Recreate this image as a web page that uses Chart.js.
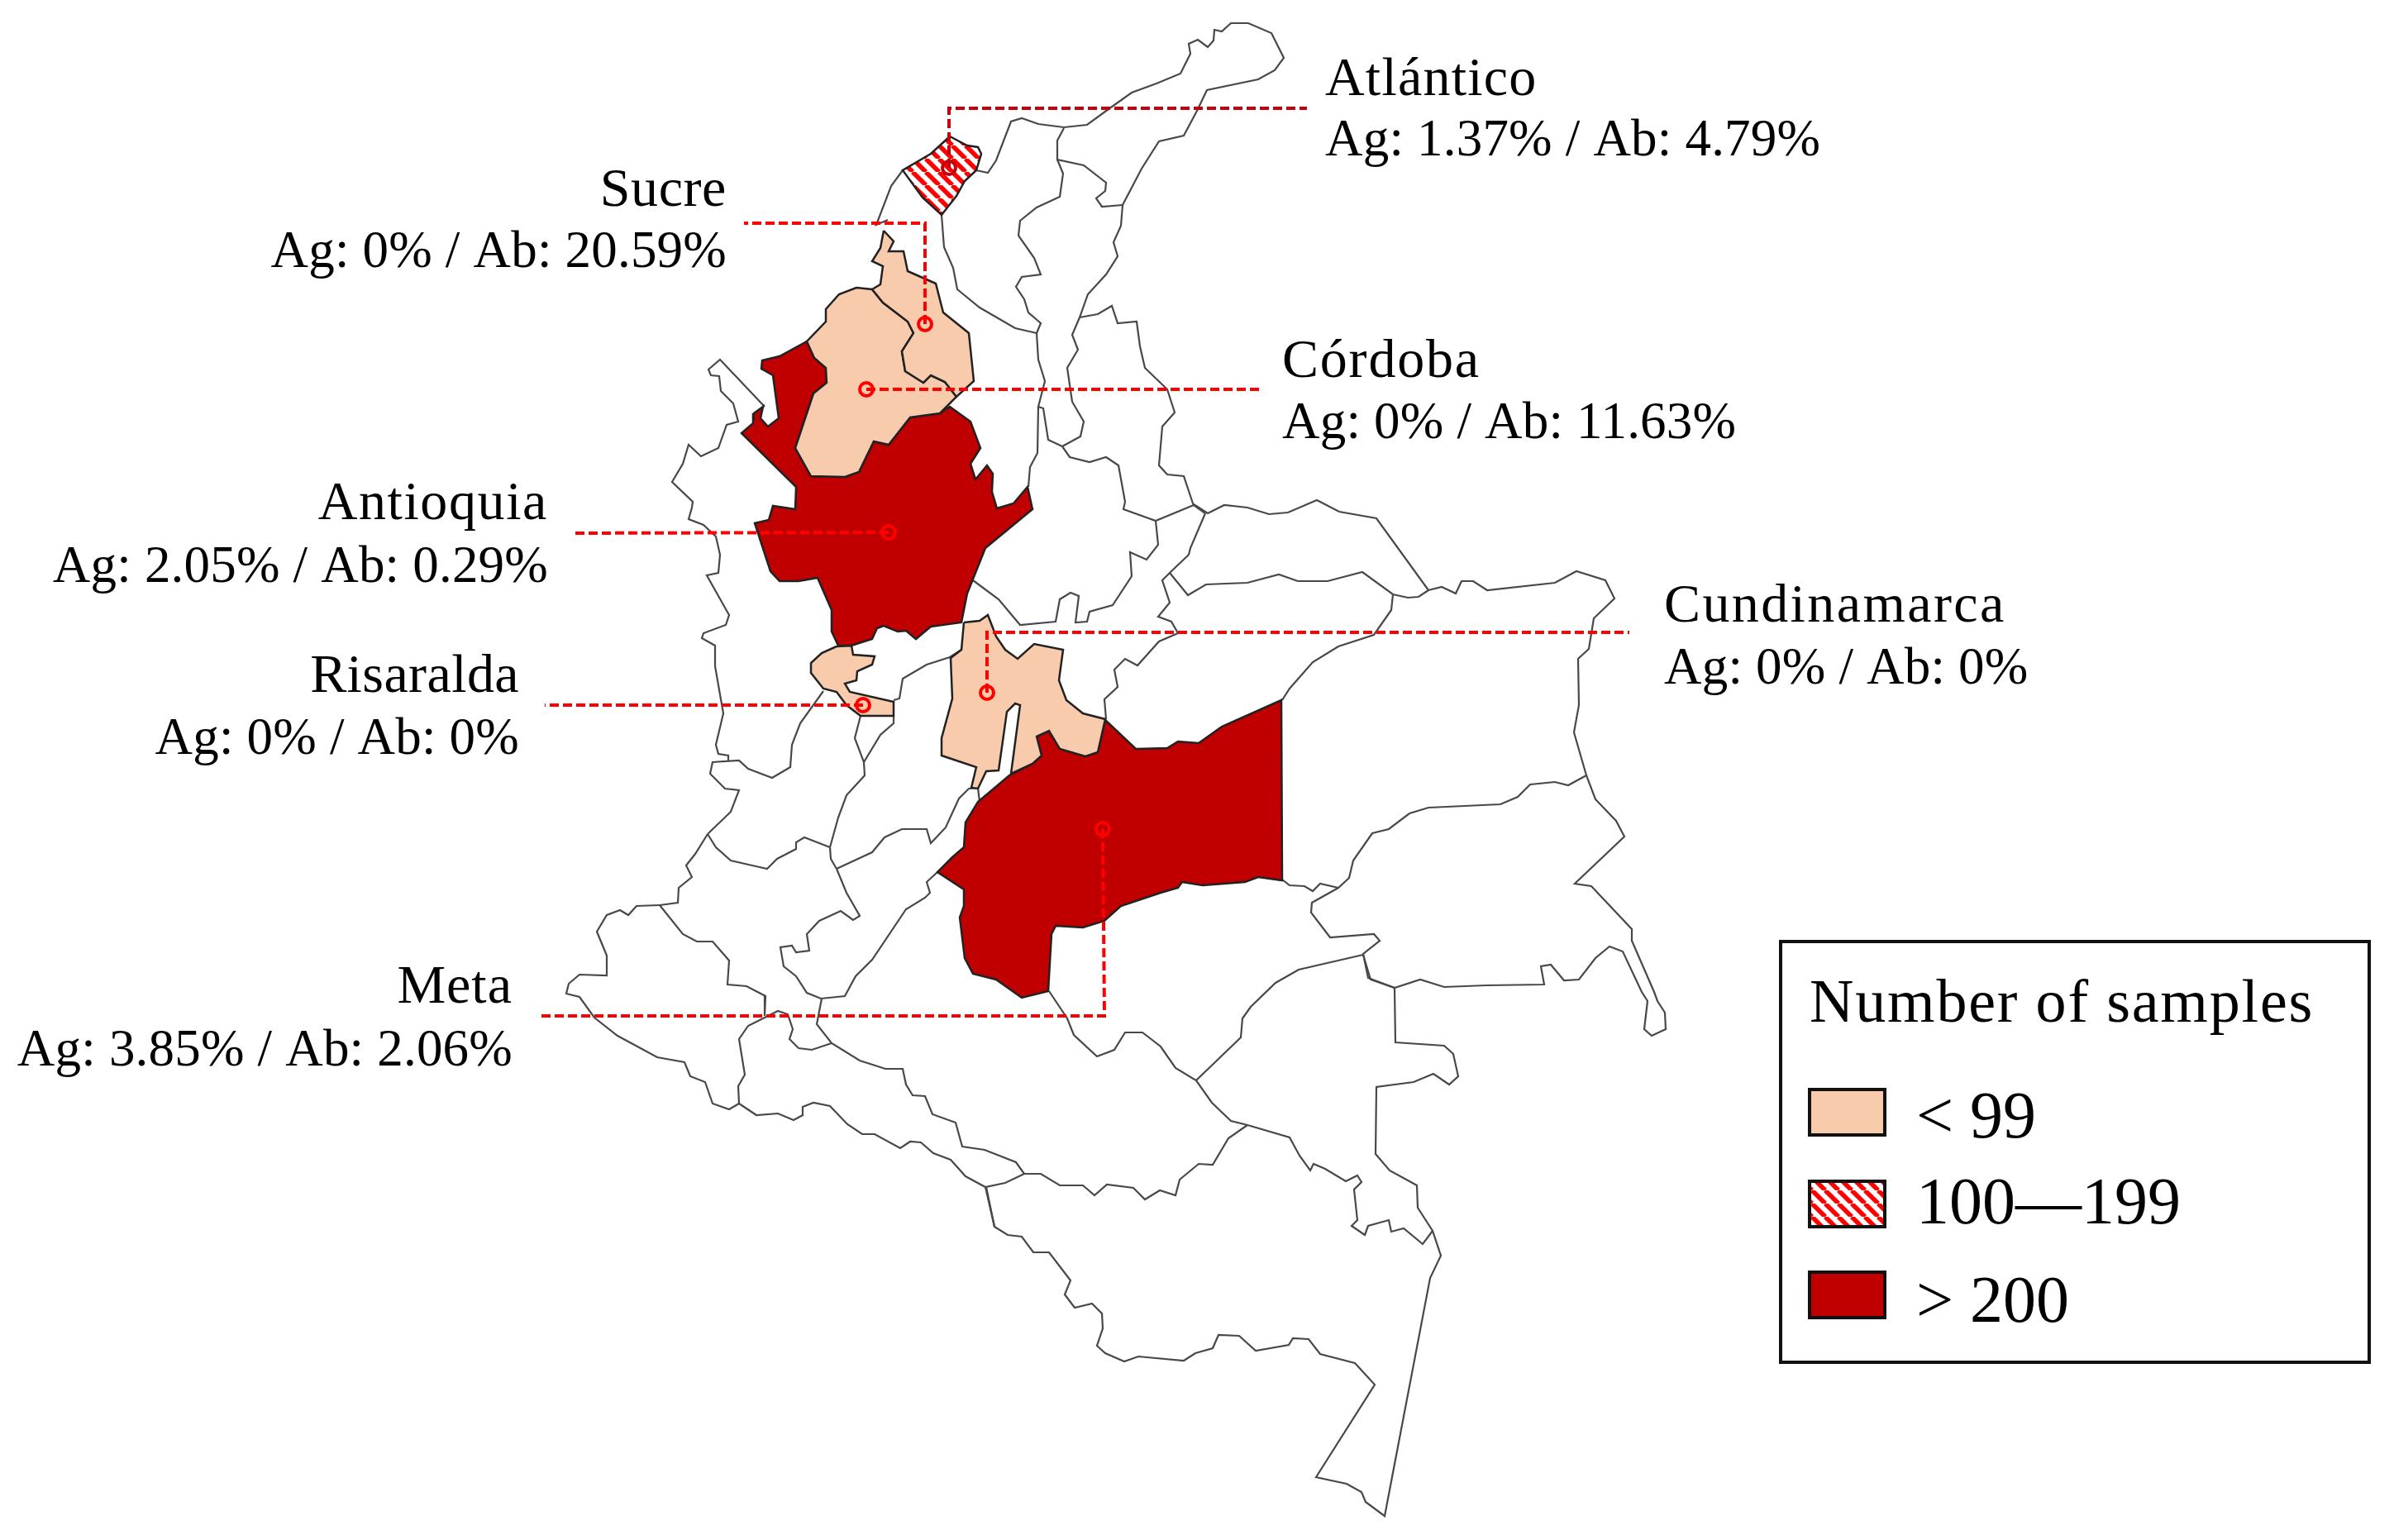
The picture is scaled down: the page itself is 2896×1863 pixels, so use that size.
<!DOCTYPE html>
<html>
<head>
<meta charset="utf-8">
<title>Samples by department</title>
<script src="https://cdn.jsdelivr.net/npm/chart.js@4/dist/chart.umd.min.js"></script>
<style>
html, body { margin: 0; padding: 0; background: #fff; }
canvas { display: block; filter: blur(0.7px); }
</style>
</head>
<body>
<canvas id="map" width="2896" height="1863"></canvas>
<script>
// departments that have samples
const atlantico = [[1149,165],[1170,176],[1183,178],[1187,186],[1181,206],[1167,219],[1157,237],[1139,260],[1116,239],[1092,206],[1126,186],[1149,165]];
const sucre = [[1069,279],[1081,292],[1075,304],[1093,304],[1098,328],[1132,343],[1141,378],[1172,403],[1178,461],[1157,480],[1143,462],[1126,454],[1117,463],[1095,449],[1091,425],[1105,403],[1098,389],[1068,366],[1055,350],[1065,344],[1068,322],[1055,316],[1065,300],[1069,279]];
const cordoba = [[1055,350],[1036,348],[1015,356],[999,374],[999,389],[976,413],[985,433],[999,445],[1000,463],[984,476],[962,542],[981,576],[1022,577],[1039,571],[1057,534],[1075,538],[1101,505],[1137,500],[1157,480],[1143,462],[1126,454],[1117,463],[1095,449],[1091,425],[1105,403],[1098,389],[1068,366],[1055,350]];
const antioquia = [[976,413],[943,431],[922,436],[921,446],[935,454],[942,506],[929,516],[920,506],[923,492],[912,500],[911,512],[897,524],[963,589],[962,616],[935,612],[930,629],[913,633],[932,691],[943,703],[966,703],[989,699],[1006,738],[1006,764],[1014,781],[1030,781],[1055,773],[1061,760],[1069,757],[1086,764],[1096,763],[1108,773],[1126,758],[1163,753],[1170,718],[1192,663],[1249,616],[1243,589],[1226,609],[1206,615],[1200,595],[1201,573],[1194,563],[1180,580],[1174,561],[1186,542],[1174,510],[1149,492],[1137,500],[1101,505],[1075,538],[1057,534],[1039,571],[1022,577],[981,576],[962,542],[984,476],[1000,463],[999,445],[985,433],[976,413]];
const risaralda = [[1012,782],[1030,781],[1032,792],[1058,794],[1055,804],[1037,812],[1036,823],[1022,827],[1028,837],[1081,849],[1081,866],[1041,866],[1024,853],[1012,837],[996,833],[981,814],[981,802],[994,790],[1012,782]];
const cundinamarca = [[1166,753],[1185,751],[1195,744],[1205,770],[1216,786],[1231,797],[1251,779],[1286,786],[1281,823],[1290,847],[1310,863],[1337,870],[1328,910],[1313,915],[1282,906],[1269,884],[1254,891],[1260,914],[1249,924],[1223,936],[1234,853],[1228,851],[1218,861],[1208,932],[1193,933],[1183,954],[1175,953],[1181,928],[1139,914],[1139,893],[1152,845],[1150,796],[1163,786],[1166,753]];
const meta = [[1337,871],[1374,906],[1412,905],[1425,897],[1450,899],[1478,879],[1550,847],[1551,1065],[1522,1061],[1506,1067],[1455,1071],[1430,1067],[1425,1074],[1404,1080],[1356,1096],[1336,1114],[1310,1122],[1277,1120],[1272,1130],[1268,1199],[1236,1207],[1205,1185],[1177,1178],[1167,1159],[1161,1110],[1166,1096],[1166,1076],[1134,1055],[1152,1037],[1166,1025],[1168,995],[1183,970],[1221,938],[1249,924],[1260,914],[1254,891],[1269,884],[1282,906],[1313,915],[1328,910],[1337,871]];

// the remaining borders, all unfilled
const borderLines = [
  [[1092,206],[1078,225],[1060,272],[1074,266]],
  [[1181,206],[1195,209],[1205,194],[1223,147],[1236,143],[1256,150],[1287,154],[1315,151],[1341,132],[1369,112],[1399,101],[1428,89],[1440,65],[1438,53],[1449,48],[1461,57],[1468,49],[1469,36],[1478,38],[1489,28],[1510,28],[1538,40],[1553,70],[1542,85],[1522,96],[1460,109],[1448,134],[1432,164],[1402,171],[1381,204],[1358,248]],
  [[1287,155],[1279,170],[1279,193],[1311,200],[1338,221],[1337,231],[1326,240],[1333,250],[1358,248]],
  [[1279,193],[1286,210],[1282,238],[1254,251],[1234,267],[1232,285],[1251,312],[1259,332],[1236,335],[1229,347],[1239,362],[1244,378],[1259,391],[1254,403]],
  [[1139,260],[1142,299],[1153,324],[1158,350],[1185,372],[1228,397],[1254,403]],
  [[1358,248],[1356,273],[1347,293],[1352,310],[1338,332],[1316,356],[1306,384],[1297,405],[1304,423],[1291,445],[1297,486],[1311,510],[1307,528],[1285,540]],
  [[1306,384],[1328,380],[1345,370],[1352,391],[1375,389],[1379,419],[1385,445],[1412,471],[1421,499],[1406,516],[1402,563],[1412,574],[1432,576],[1444,612]],
  [[1285,540],[1294,553],[1318,559],[1338,553],[1353,563],[1361,607],[1359,616],[1398,630],[1444,611],[1458,621]],
  [[1254,403],[1256,435],[1264,461],[1256,492],[1262,494],[1268,532],[1285,540]],
  [[1256,492],[1255,548],[1246,565],[1244,589]],
  // pacific coast and the west
  [[925,492],[871,435],[857,447],[860,454],[870,455],[872,473],[887,488],[893,510],[879,514],[869,542],[848,552],[833,538],[826,561],[813,583],[838,607],[837,614],[833,628],[851,635],[866,649],[871,671],[869,693],[855,696],[882,744],[878,756],[851,766],[849,772],[865,781],[865,806],[875,863],[866,901],[869,912],[881,914],[881,920]],
  [[996,836],[968,875],[958,901],[956,928],[934,941],[905,930],[894,920],[862,922],[859,936],[877,954],[894,956],[884,982],[856,1009]],
  [[1081,847],[1088,845],[1092,821],[1121,804],[1149,795],[1163,786]],
  // centre
  [[1177,702],[1208,725],[1234,756],[1277,752],[1282,725],[1295,717],[1305,721],[1301,753],[1315,752],[1318,740],[1346,732],[1369,697],[1367,668],[1387,677],[1401,659],[1398,630]],
  [[1458,621],[1440,663],[1438,671],[1415,693],[1406,702],[1415,729],[1401,746],[1417,752],[1425,766],[1402,776],[1376,805],[1361,797],[1348,810],[1352,831],[1336,846],[1338,870]],
  // arauca, casanare, vichada
  [[1444,610],[1461,621],[1481,611],[1509,614],[1535,622],[1558,620],[1593,605],[1620,619],[1665,627],[1728,714]],
  [[1415,693],[1437,720],[1459,707],[1509,705],[1547,695],[1570,703],[1606,703],[1648,692],[1685,719],[1703,723],[1716,722],[1728,714]],
  [[1728,714],[1744,710],[1761,718],[1768,703],[1782,703],[1799,714],[1881,705],[1907,691],[1942,702],[1953,724],[1928,748],[1922,785],[1909,797],[1910,853],[1904,886],[1919,938],[1930,967],[1955,993],[1965,1012],[1905,1069],[1925,1072],[1974,1124],[1974,1138],[2001,1200],[2005,1211],[2014,1225],[2015,1245],[1998,1253],[1989,1245],[1993,1211],[1986,1200],[1963,1151],[1947,1145],[1930,1159],[1910,1185],[1892,1186],[1876,1167],[1864,1169],[1868,1191],[1799,1192],[1747,1194],[1718,1185],[1687,1195],[1658,1185],[1649,1155]],
  [[1687,1195],[1688,1261],[1747,1265],[1758,1275],[1764,1302],[1753,1312],[1734,1299],[1710,1309],[1665,1315],[1664,1396],[1681,1416],[1714,1434],[1715,1461],[1733,1489],[1743,1519],[1730,1546],[1675,1834],[1652,1817],[1647,1805],[1629,1795],[1592,1787],[1663,1675],[1639,1649],[1597,1638],[1583,1620],[1564,1619],[1559,1627],[1519,1634],[1499,1616],[1474,1615],[1467,1631],[1446,1637],[1432,1646],[1377,1641],[1360,1647],[1337,1637],[1327,1628],[1334,1607],[1333,1589],[1321,1577],[1300,1582],[1288,1566],[1295,1549],[1282,1532],[1269,1515],[1250,1515],[1236,1496],[1219,1494],[1203,1484],[1193,1436]],
  [[1239,1420],[1259,1420],[1282,1434],[1310,1434],[1324,1446],[1339,1433],[1371,1437],[1385,1451],[1403,1440],[1422,1446],[1427,1427],[1450,1408],[1467,1409],[1486,1377],[1509,1361]],
  [[1509,1361],[1560,1376],[1572,1398],[1585,1416],[1589,1408],[1603,1414],[1628,1429],[1642,1422],[1647,1430],[1638,1439],[1642,1476],[1635,1483],[1651,1494],[1655,1483],[1680,1476],[1683,1490],[1698,1486],[1721,1505],[1733,1489]],
  [[1509,1361],[1489,1356],[1466,1334],[1447,1307],[1422,1292],[1404,1266],[1382,1249],[1361,1249],[1348,1270],[1327,1278],[1299,1252],[1291,1232],[1269,1199]],
  [[1447,1307],[1501,1255],[1503,1232],[1513,1218],[1543,1189],[1571,1173],[1649,1155]],
  [[1551,1064],[1560,1071],[1578,1072],[1588,1078],[1597,1069],[1619,1074]],
  [[1551,847],[1560,833],[1588,801],[1619,782],[1662,768],[1683,738],[1685,719]],
  [[1919,938],[1897,950],[1881,946],[1851,949],[1836,964],[1815,973],[1728,977],[1705,984],[1680,1003],[1660,1008],[1637,1041],[1632,1062],[1619,1074],[1587,1092],[1586,1104],[1609,1134],[1662,1130],[1669,1138],[1649,1154],[1655,1183],[1687,1195]],
  // tolima, huila, valle, cauca
  [[1041,866],[1034,893],[1045,922],[1065,889],[1081,875],[1081,866]],
  [[1045,922],[1046,938],[1024,962],[1014,989],[1004,1025],[1005,1039],[1012,1051]],
  [[1004,1025],[973,1013],[963,1019],[963,1027],[940,1039],[928,1051],[910,1047],[884,1041],[866,1025],[856,1009]],
  [[1012,1051],[1055,1031],[1070,1013],[1091,1003],[1121,1003],[1126,1020],[1144,1001],[1160,966],[1172,954],[1183,953],[1185,970]],
  [[1012,1051],[1024,1080],[1040,1108],[1032,1113],[1017,1102],[991,1114],[976,1130],[979,1150],[963,1152],[958,1144],[944,1146],[948,1169],[963,1181],[976,1201],[993,1208],[1022,1205],[1035,1181],[1055,1161],[1096,1100],[1119,1086],[1125,1080],[1121,1067],[1134,1055]],
  [[856,1009],[841,1033],[830,1047],[837,1061],[821,1074],[820,1092],[798,1095]],
  [[798,1095],[770,1096],[760,1107],[750,1101],[734,1107],[722,1127],[734,1156],[734,1180],[701,1179],[688,1190],[685,1202],[701,1206],[719,1231],[747,1253],[795,1279],[828,1285],[835,1302],[853,1309],[862,1335],[882,1342],[894,1335]],
  [[894,1335],[893,1314],[901,1300],[894,1257],[905,1241],[941,1223],[953,1227],[959,1245],[955,1257],[966,1268],[982,1270],[1006,1262]],
  [[798,1095],[826,1130],[843,1139],[862,1139],[882,1162],[880,1191],[903,1193],[926,1205],[925,1229]],
  [[994,1208],[988,1239],[1006,1262],[1040,1283],[1071,1293],[1092,1293],[1096,1312],[1104,1325],[1119,1326],[1128,1348],[1156,1358],[1164,1387],[1191,1391],[1229,1406],[1239,1420]],
  [[894,1335],[915,1349],[941,1347],[960,1355],[971,1349],[971,1339],[984,1334],[1004,1338],[1025,1360],[1043,1372],[1058,1372],[1089,1389],[1101,1381],[1114,1382],[1129,1395],[1150,1403],[1168,1423],[1192,1436],[1216,1431],[1239,1420]],
  [[1192,1436],[1203,1484]]
];

// leader lines, marker first
const leaderAtlantico = [[1148,203],[1148,131],[1581,131]];
const leaderSucre = [[1119,392],[1119,270],[900,270]];
const leaderCordoba = [[1048,471],[1527,471]];
const leaderAntioquia = [[1075,644],[691,645]];
const leaderCundinamarca = [[1194,838],[1194,765],[1971,765]];
const leaderRisaralda = [[1044,853],[659,853]];
const leaderMeta = [[1334,1003],[1336,1229],[650,1229]];

const departments = ["Atlántico", "Sucre", "Córdoba", "Antioquia", "Cundinamarca", "Risaralda", "Meta"];
const rates = ["Ag: 1.37% / Ab: 4.79%", "Ag: 0% / Ab: 20.59%", "Ag: 0% / Ab: 11.63%", "Ag: 2.05% / Ab: 0.29%", "Ag: 0% / Ab: 0%", "Ag: 0% / Ab: 0%", "Ag: 3.85% / Ab: 2.06%"];
const legendTitle = "Number of samples";
const legendLabels = ["< 99", "100—199", "> 200"];

const peach = "#f8cbad";
const darkRed = "#c00000";
const red = "#ff0000";
const lineGrey = "#484848";

function stripes() {
  let tile = document.createElement("canvas");
  tile.width = 16;
  tile.height = 16;
  let c = tile.getContext("2d");
  c.fillStyle = "#fff";
  c.fillRect(0, 0, 16, 16);
  c.strokeStyle = red;
  c.lineWidth = 5.5;
  c.beginPath();
  for (let i = -16; i <= 32; i += 16) {
    c.moveTo(i, 0);
    c.lineTo(i + 16, 16);
  }
  c.stroke();
  return c.createPattern(tile, "repeat");
}
const hatch = stripes();

function region(data, colour) {
  return { data: data, showLine: true, fill: "shape", backgroundColor: colour, borderColor: "#222", borderWidth: 2.5, pointRadius: 0, tension: 0, order: 3 };
}
function border(data) {
  return { data: data, showLine: true, fill: false, borderColor: lineGrey, borderWidth: 2.2, pointRadius: 0, tension: 0, order: 4 };
}
function leader(data, colour) {
  return {
    data: data, showLine: true, fill: false, borderColor: colour, borderWidth: 4, borderDash: [11, 5], tension: 0, order: 1,
    pointRadius: data.map((p, i) => i == 0 ? 8 : 0),
    pointBorderWidth: 4,
    pointBorderColor: colour,
    pointBackgroundColor: "rgba(0,0,0,0)"
  };
}

let datasets = [
  leader(leaderAtlantico, "#c4000a"),
  leader(leaderSucre, red),
  leader(leaderCordoba, red),
  leader(leaderAntioquia, red),
  leader(leaderCundinamarca, red),
  leader(leaderRisaralda, red),
  leader(leaderMeta, red),
  region(atlantico, hatch),
  region(sucre, peach),
  region(cordoba, peach),
  region(antioquia, darkRed),
  region(risaralda, peach),
  region(cundinamarca, peach),
  region(meta, darkRed)
];
borderLines.forEach(l => datasets.push(border(l)));

// where each label goes: align, x, baseline of first and second line, name letter gap
const labelSpots = [
  ["left", 1603, 115, 188, 1.2],
  ["right", 879, 249, 323, 0.6],
  ["left", 1551, 456, 530, 1.8],
  ["right", 663, 628, 704, 1.6],
  ["left", 2013, 752, 827, 2.4],
  ["right", 628, 837, 912, 0.4],
  ["right", 620, 1213, 1289, 1.0]
];

const mapText = {
  id: "mapText",
  afterDatasetsDraw(chart) {
    let ctx = chart.ctx;
    let x = chart.scales.x;
    let y = chart.scales.y;
    ctx.save();
    ctx.fillStyle = "#000";
    ctx.textBaseline = "alphabetic";
    departments.forEach((name, i) => {
      let s = labelSpots[i];
      ctx.textAlign = s[0];
      ctx.font = "66px 'Liberation Serif'";
      ctx.letterSpacing = s[4] + "px";
      ctx.fillText(name, x.getPixelForValue(s[1]), y.getPixelForValue(s[2]));
      ctx.font = "63px 'Liberation Serif'";
      ctx.letterSpacing = "0.2px";
      ctx.fillText(rates[i], x.getPixelForValue(s[1]), y.getPixelForValue(s[3]));
    });

    // legend box
    ctx.strokeStyle = "#111";
    ctx.lineWidth = 4;
    ctx.strokeRect(2154, 1139, 712, 509);
    ctx.textAlign = "left";
    ctx.font = "74px 'Liberation Serif'";
    ctx.letterSpacing = "1.8px";
    ctx.fillText(legendTitle, 2189, 1236);
    ctx.letterSpacing = "0px";
    let fills = [peach, hatch, darkRed];
    let tops = [1318, 1429, 1539];
    let bases = [1376, 1480, 1599];
    ctx.font = "80px 'Liberation Serif'";
    legendLabels.forEach((label, i) => {
      ctx.fillStyle = fills[i];
      ctx.fillRect(2189, tops[i], 91, 55);
      ctx.strokeRect(2189, tops[i], 91, 55);
      ctx.fillStyle = "#000";
      ctx.fillText(label, 2318, bases[i]);
    });
    ctx.restore();
  }
};

new Chart(document.getElementById("map"), {
  type: "scatter",
  data: { datasets: datasets },
  options: {
    responsive: false,
    devicePixelRatio: 1,
    animation: false,
    layout: { padding: 0, autoPadding: false },
    plugins: { legend: { display: false }, tooltip: { enabled: false } },
    scales: {
      x: { type: "linear", min: 0, max: 2896, display: false },
      y: { type: "linear", min: 0, max: 1863, reverse: true, display: false }
    }
  },
  plugins: [mapText]
});
</script>
</body>
</html>
